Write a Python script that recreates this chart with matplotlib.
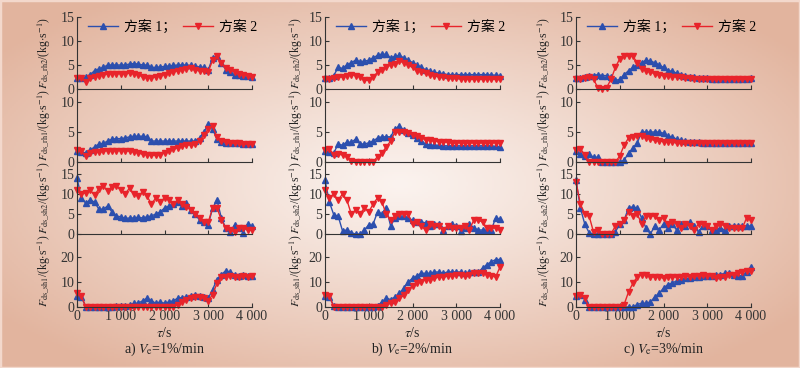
import matplotlib
matplotlib.use("Agg")
import matplotlib.pyplot as plt
import numpy as np
from matplotlib.lines import Line2D
from matplotlib.patches import Rectangle

plt.rcParams['font.family'] = ['Liberation Serif', 'Noto Sans CJK SC']
plt.rcParams['mathtext.fontset'] = 'stix'

# time axis, one sample every 100 s
t = np.arange(0, 4001, 100)

# ---- column a: Ve = 1%/min ----
a_rh2_1 = [2.3, 2.2, 2.5, 3.0, 3.8, 4.2, 4.5, 5.0, 5.0, 5.0,
           5.0, 5.0, 5.2, 5.3, 5.2, 5.0, 5.0, 4.5, 4.5, 4.6,
           4.7, 4.8, 4.9, 5.0, 5.0, 5.0, 4.9, 4.8, 4.6, 4.5,
           4.0, 6.5, 6.8, 5.5, 4.0, 3.5, 3.0, 2.9, 2.8, 2.7,
           2.6]
a_rh2_2 = [2.3, 2.2, 1.5, 2.3, 2.6, 2.8, 3.0, 3.1, 3.2, 3.2,
           3.2, 3.2, 3.3, 3.2, 3.0, 2.5, 2.3, 2.3, 2.5, 2.8,
           3.0, 3.3, 3.6, 3.8, 4.0, 4.2, 4.3, 4.0, 3.8, 3.7,
           3.6, 6.0, 6.8, 5.5, 4.3, 4.0, 3.5, 3.2, 2.9, 2.8,
           2.6]
a_rh1_1 = [1.8, 1.7, 1.5, 2.0, 2.5, 3.0, 3.1, 3.5, 3.8, 3.9,
           3.9, 4.0, 4.2, 4.3, 4.3, 4.3, 4.2, 3.5, 3.5, 3.5,
           3.5, 3.5, 3.5, 3.5, 3.5, 3.5, 3.5, 3.5, 4.0, 5.0,
           6.3, 5.5, 3.8, 3.3, 3.2, 3.2, 3.1, 3.1, 3.0, 3.0,
           3.0]
a_rh1_2 = [2.0, 1.8, 1.0, 1.5, 1.6, 1.6, 1.8, 1.9, 1.9, 1.9,
           1.9, 1.9, 1.8, 1.7, 1.5, 1.3, 1.2, 1.1, 1.1, 1.2,
           1.5, 1.8, 2.1, 2.4, 2.6, 2.8, 2.9, 3.0, 3.5, 4.5,
           5.5, 6.0, 4.2, 3.5, 3.3, 3.2, 3.1, 3.1, 3.0, 3.0,
           3.0]
a_sh2_1 = [14.0, 9.0, 7.7, 8.5, 8.0, 6.2, 6.2, 7.0, 5.5, 4.5,
           4.3, 3.9, 4.0, 4.0, 4.2, 4.0, 4.3, 4.5, 5.0, 5.5,
           6.5, 7.0, 7.5, 8.0, 7.0, 7.8, 6.0, 5.0, 3.5, 3.0,
           2.3, 6.5, 8.5, 4.0, 1.5, 0.5, 2.2, 1.5, 0.3, 2.5,
           2.0]
a_sh2_2 = [11.0, 10.0, 10.3, 11.0, 9.7, 11.3, 12.0, 10.8, 11.8, 12.0,
           11.0, 10.0, 11.5, 10.0, 9.5, 10.5, 9.5, 7.5, 9.0, 8.0,
           9.0, 8.5, 7.5, 8.5, 7.5, 6.8, 6.0, 5.0, 4.0, 3.0,
           3.0, 6.5, 6.5, 3.5, 1.5, 1.0, 0.5, 1.5, 1.5, 1.0,
           1.0]
a_sh1_1 = [4.5, 4.0, 0.2, 0.0, 0.0, 0.0, 0.0, 0.0, 0.0, 0.3,
           0.5, 0.3, 0.8, 1.5, 1.5, 2.5, 3.5, 2.5, 1.5, 2.0,
           1.5, 2.0, 2.5, 3.5, 3.8, 4.0, 4.5, 5.0, 4.5, 4.0,
           3.5, 7.0, 11.0, 13.0, 14.5, 14.0, 13.0, 12.5, 13.0, 12.5,
           12.5]
a_sh1_2 = [5.5, 4.5, 0.0, 0.0, 0.0, 0.0, 0.0, 0.0, 0.0, 0.0,
           0.0, 0.0, 0.0, 0.0, 0.0, 0.0, 0.0, 0.0, 0.0, 0.0,
           0.0, 0.0, 0.2, 1.0, 2.0, 3.0, 3.5, 4.0, 4.0, 3.5,
           2.5, 5.0, 9.5, 12.0, 12.0, 12.5, 12.0, 12.0, 12.5, 12.0,
           12.5]

# ---- column b: Ve = 2%/min ----
b_rh2_1 = [2.3, 2.3, 2.8, 4.5, 4.3, 5.0, 5.5, 6.0, 5.7, 5.8,
           6.0, 6.5, 7.0, 7.3, 7.2, 6.5, 6.8, 7.0, 6.5, 6.0,
           5.5, 5.0, 4.5, 4.0, 3.8, 3.5, 3.3, 3.2, 3.0, 3.0,
           3.0, 3.0, 3.0, 3.0, 3.0, 3.0, 3.0, 3.0, 2.9, 2.9,
           2.8]
b_rh2_2 = [2.0, 2.0, 2.2, 2.5, 2.5, 2.8, 3.0, 2.8, 2.6, 1.8,
           1.8, 2.5, 3.5, 4.0, 4.5, 5.0, 5.2, 5.8, 5.5, 5.0,
           4.5, 3.8, 3.6, 3.3, 3.0, 2.8, 2.6, 2.5, 2.3, 2.2,
           2.2, 2.1, 2.0, 2.0, 2.0, 2.0, 2.0, 2.0, 2.0, 2.0,
           2.0]
b_rh1_1 = [1.8, 1.7, 1.5, 3.0, 2.8, 3.3, 3.3, 3.8, 3.0, 3.0,
           3.2, 3.5, 4.0, 4.2, 4.2, 4.2, 5.5, 6.0, 5.3, 4.8,
           4.5, 4.0, 3.5, 3.0, 2.8, 2.8, 2.8, 2.7, 2.7, 2.7,
           2.7, 2.7, 2.7, 2.7, 2.7, 2.7, 2.7, 2.7, 2.7, 2.6,
           2.5]
b_rh1_2 = [2.0, 2.2, 1.2, 1.3, 1.2, 0.8, 0.2, 0.0, 0.0, 0.0,
           0.0, 0.0, 0.9, 1.5, 2.5, 3.5, 5.0, 5.0, 5.0, 4.8,
           4.5, 4.3, 4.0, 3.7, 3.6, 3.5, 3.4, 3.3, 3.3, 3.2,
           3.2, 3.2, 3.2, 3.2, 3.2, 3.2, 3.2, 3.2, 3.2, 3.2,
           3.2]
b_sh2_1 = [13.5, 8.0, 4.8, 4.5, 0.8, 1.0, 0.3, 0.0, 0.0, 1.0,
           2.3, 2.5, 5.5, 5.0, 6.5, 2.0, 4.0, 4.5, 4.5, 4.0,
           3.5, 3.0, 3.0, 2.8, 2.0, 2.5, 2.5, 1.0, 2.0, 2.5,
           2.0, 0.8, 1.5, 2.5, 1.5, 1.0, 1.0, 1.0, 1.0, 4.0,
           3.8]
b_sh2_2 = [11.0, 9.0, 10.0, 8.5, 10.0, 8.5, 5.0, 6.0, 5.0, 6.5,
           5.5, 7.5, 9.0, 8.0, 5.0, 3.5, 4.5, 5.0, 5.0, 5.0,
           2.5, 3.0, 2.0, 1.0, 2.5, 2.0, 2.0, 1.0, 2.0, 1.5,
           1.5, 1.5, 2.0, 1.0, 3.5, 3.5, 3.0, 1.5, 1.5, 1.5,
           1.0]
b_sh1_1 = [4.5, 4.0, 0.5, 0.0, 0.0, 0.0, 0.0, 0.0, 0.0, 0.0,
           0.0, 0.0, 0.5, 2.0, 3.5, 3.0, 4.0, 5.5, 7.5, 10.0,
           11.5, 12.5, 13.5, 13.5, 13.5, 14.0, 14.0, 13.5, 14.0, 14.0,
           14.0, 14.0, 13.5, 14.0, 14.0, 14.0, 15.5, 17.0, 18.0, 19.0,
           19.0]
b_sh1_2 = [5.0, 4.5, 0.0, 0.0, 0.0, 0.0, 0.0, 0.0, 0.0, 0.0,
           0.0, 0.0, 0.0, 0.0, 1.0, 1.5, 2.0, 3.5, 5.0, 7.0,
           8.5, 9.5, 10.0, 11.0, 11.0, 11.5, 12.0, 12.0, 12.5, 12.5,
           13.0, 13.0, 12.5, 13.0, 13.5, 13.5, 13.5, 13.0, 12.5, 12.0,
           16.0]

# ---- column c: Ve = 3%/min ----
c_rh2_1 = [2.3, 2.2, 2.5, 2.7, 2.8, 3.0, 2.8, 2.8, 2.5, 1.8,
           2.0, 3.0, 3.8, 4.5, 5.0, 5.5, 6.0, 5.8, 5.5, 5.0,
           4.5, 3.8, 3.7, 3.3, 3.0, 2.8, 2.6, 2.5, 2.3, 2.2,
           2.2, 2.1, 2.1, 2.1, 2.1, 2.1, 2.1, 2.1, 2.1, 2.1,
           2.2]
c_rh2_2 = [2.0, 2.0, 2.3, 2.5, 2.0, 0.3, 0.0, 0.3, 2.0, 4.5,
           6.3, 6.9, 6.9, 6.8, 5.5, 4.2, 3.8, 3.5, 3.2, 2.9,
           2.8, 2.7, 2.6, 2.5, 2.4, 2.3, 2.2, 2.1, 2.0, 2.0,
           2.0, 2.0, 2.0, 2.0, 2.0, 2.0, 2.0, 2.0, 2.0, 2.0,
           2.0]
c_rh1_1 = [1.8, 1.3, 1.0, 1.3, 0.8, 0.8, 0.0, 0.0, 0.0, 0.0,
           0.0, 0.3, 1.5, 2.3, 3.2, 5.0, 5.0, 5.0, 5.0, 5.0,
           4.8, 4.3, 4.2, 3.8, 3.6, 3.5, 3.4, 3.3, 3.3, 3.2,
           3.2, 3.2, 3.2, 3.2, 3.2, 3.2, 3.2, 3.2, 3.2, 3.2,
           3.2]
c_rh1_2 = [2.0, 2.2, 1.2, 0.0, 0.0, 0.0, 0.0, 0.0, 0.0, 0.0,
           1.0, 2.8, 4.0, 4.2, 4.3, 4.3, 4.0, 3.8, 3.6, 3.5,
           3.4, 3.3, 3.3, 3.2, 3.2, 3.2, 3.2, 3.2, 3.2, 3.2,
           3.2, 3.2, 3.2, 3.2, 3.2, 3.2, 3.2, 3.2, 3.2, 3.2,
           3.2]
c_sh2_1 = [13.5, 6.5, 2.5, 0.3, 0.0, 0.0, 0.0, 0.0, 0.0, 0.5,
           2.5, 3.5, 6.5, 6.8, 6.5, 4.0, 1.5, 0.0, 2.0, 1.0,
           2.5, 1.5, 2.5, 1.0, 2.5, 2.0, 3.0, 2.0, 0.5, 2.0,
           2.0, 1.0, 1.0, 1.5, 1.0, 2.0, 2.0, 2.0, 2.0, 2.0,
           2.0]
c_sh2_2 = [13.0, 7.5, 5.0, 4.5, 0.5, 1.0, 0.0, 0.0, 0.0, 2.0,
           2.5, 3.5, 5.5, 4.5, 5.0, 2.5, 4.5, 4.5, 4.5, 3.5,
           4.0, 2.5, 3.0, 2.5, 1.5, 2.5, 2.0, 1.0, 2.5, 2.5,
           2.0, 1.0, 2.0, 2.5, 2.0, 1.5, 1.5, 1.5, 1.5, 4.0,
           3.5]
c_sh1_1 = [4.5, 5.0, 3.0, 0.0, 0.0, 0.0, 0.0, 0.0, 0.0, 0.0,
           0.0, 0.0, 0.0, 0.0, 1.0, 1.5, 1.5, 2.0, 4.0, 5.5,
           7.5, 9.0, 9.5, 10.5, 11.0, 11.5, 11.5, 12.0, 12.0, 12.5,
           12.5, 12.5, 13.0, 13.0, 13.5, 13.5, 13.0, 12.5, 12.5, 14.0,
           16.0]
c_sh1_2 = [4.5, 5.0, 3.5, 0.0, 0.0, 0.0, 0.0, 0.0, 0.0, 0.0,
           0.0, 1.0, 6.0, 9.5, 12.0, 13.0, 13.0, 12.0, 12.0, 12.0,
           11.5, 12.0, 12.0, 12.0, 12.0, 12.5, 12.0, 12.5, 12.5, 13.0,
           12.5, 12.5, 11.5, 12.0, 12.0, 13.0, 13.0, 13.5, 14.0, 14.5,
           14.5]

ylabels = [r'$F_{\mathrm{ds\_rh2}}$/(kg$\cdot$s$^{-1}$)',
           r'$F_{\mathrm{ds\_rh1}}$/(kg$\cdot$s$^{-1}$)',
           r'$F_{\mathrm{ds\_sh2}}$/(kg$\cdot$s$^{-1}$)',
           r'$F_{\mathrm{ds\_sh1}}$/(kg$\cdot$s$^{-1}$)']
captions = [r'a) $V_\mathrm{e}$=1%/min', r'b) $V_\mathrm{e}$=2%/min',
            r'c) $V_\mathrm{e}$=3%/min']
legend_labels = ['方案 1；', '方案 2']
xticks = [0, 1000, 2000, 3000, 4000]
xticklabels = ['0', '1 000', '2 000', '3 000', '4 000']

columns = [
    [(a_rh2_1, a_rh2_2), (a_rh1_1, a_rh1_2), (a_sh2_1, a_sh2_2), (a_sh1_1, a_sh1_2)],
    [(b_rh2_1, b_rh2_2), (b_rh1_1, b_rh1_2), (b_sh2_1, b_sh2_2), (b_sh1_1, b_sh1_2)],
    [(c_rh2_1, c_rh2_2), (c_rh1_1, c_rh1_2), (c_sh2_1, c_sh2_2), (c_sh1_1, c_sh1_2)],
]

W, H = 800, 368
BLUE = '#2c4fae'
RED = '#e8242b'

fig = plt.figure(figsize=(W / 100, H / 100), dpi=100)

# radial peach background
bg = fig.add_axes([0, 0, 1, 1], zorder=-10)
xx, yy = np.meshgrid(np.linspace(0, 1, 400), np.linspace(0, 1, 184))
r = np.sqrt(((xx - 0.5) / 0.62) ** 2 + ((yy - 0.5) / 0.62) ** 2)
r = np.clip(r, 0, 1) ** 1.1
c_in = np.array([251, 243, 239]) / 255
c_out = np.array([226, 180, 158]) / 255
img = c_in[None, None, :] * (1 - r[..., None]) + c_out[None, None, :] * r[..., None]
bg.imshow(img, extent=[0, 1, 0, 1], aspect='auto', origin='lower')
bg.axis('off')
bg.add_patch(Rectangle((0, 0), 1, 1, transform=bg.transAxes, fill=False,
                       edgecolor='#f3d8cc', linewidth=2.5))

# panel geometry in pixels
lefts = [77, 325, 576]
label_x = [44, 296, 544]
width = 175
bands = [(17, 89), (89, 162), (162, 234), (234, 307)]
ylims = [(0, 15), (0, 12.17), (0, 18), (0, 29.2)]
yticks = [[0, 5, 10, 15], [0, 5, 10], [0, 5, 10, 15], [0, 10, 20]]

for ci, col in enumerate(columns):
    for pi, (s1, s2) in enumerate(col):
        top, bot = bands[pi]
        ax = fig.add_axes([lefts[ci] / W, 1 - bot / H, width / W, (bot - top) / H])
        ax.set_facecolor('none')
        ax.plot(t, s1, color=BLUE, lw=1.0, marker='^', ms=4.5, clip_on=False)
        ax.plot(t, s2, color=RED, lw=1.0, marker='v', ms=4.5, clip_on=False)
        ax.set_xlim(0, 4000)
        ax.set_ylim(*ylims[pi])
        ax.set_yticks(yticks[pi])
        ax.set_xticks(xticks)
        for s in ['top', 'right']:
            ax.spines[s].set_visible(False)
        for s in ['left', 'bottom']:
            ax.spines[s].set_linewidth(0.8)
            ax.spines[s].set_color('#333333')
        ax.tick_params(direction='in', length=3, width=0.8, labelsize=10,
                       colors='#333333', pad=2)
        if pi == 3:
            ax.set_xticklabels(xticklabels)
        else:
            ax.set_xticklabels([])
        if pi == 0:
            handles = [Line2D([], [], color=BLUE, lw=1.0, marker='^', ms=4.5),
                       Line2D([], [], color=RED, lw=1.0, marker='v', ms=4.5)]
            ax.legend(handles, legend_labels, ncol=2, frameon=False,
                      loc='center left', bbox_to_anchor=(0.06, 0.86),
                      fontsize=10, handlelength=2.2, handletextpad=0.4,
                      columnspacing=0.5, borderaxespad=0, borderpad=0)
        fig.text(label_x[ci] / W, 1 - (top + bot) / 2 / H, ylabels[pi],
                 rotation=90, ha='center', va='center', fontsize=8.4,
                 color='#222222')
    cx = (lefts[ci] + width / 2) / W
    fig.text(cx, 1 - 333 / H, r'$\tau$/s', ha='center', va='center',
             fontsize=10, color='#222222')
    fig.text(cx, 1 - 349 / H, captions[ci], ha='center', va='center',
             fontsize=10, color='#222222')

fig.savefig('out.png', dpi=100)
